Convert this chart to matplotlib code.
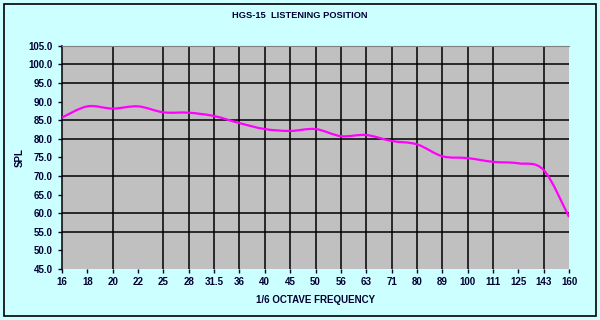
import numpy as np
import matplotlib
matplotlib.use('Agg')
import matplotlib.pyplot as plt
from matplotlib.path import Path
from matplotlib.patches import PathPatch, Rectangle

freqs = ['16', '18', '20', '22', '25', '28', '31.5', '36', '40', '45', '50',
         '56', '63', '71', '80', '89', '100', '111', '125', '143', '160']
spl = [85.7, 88.7, 88.1, 88.7, 87.1, 87.0, 86.1, 84.2, 82.6, 82.1, 82.6,
       80.7, 81.0, 79.4, 78.5, 75.3, 74.8, 73.8, 73.4, 71.6, 59.0]
# grid lines that survive in the picture
vgrid = ['20', '25', '28', '31.5', '36', '40', '45', '50', '56', '63', '71',
         '80', '89', '100', '111', '143']
hgrid = [55, 60, 70, 80, 85, 95, 100]
yticks = np.arange(45, 106, 5)

title = 'HGS-15  LISTENING POSITION'
xlabel = '1/6 OCTAVE FREQUENCY'
ylabel = 'SPL'

plt.rcParams['font.family'] = ['Liberation Sans', 'DejaVu Sans']
bg = '#CCFFFF'
txt = '#000033'

fig = plt.figure(figsize=(6, 3.2), dpi=100, facecolor=bg)
ax = fig.add_axes([62/600, 51/320, 507/600, 223.3/320])
ax.set_facecolor('#C0C0C0')

x = np.arange(len(freqs))
# smooth line like a spreadsheet chart: cubic bezier through the points
pts = np.column_stack([x, spl])
verts = [tuple(pts[0])]
codes = [Path.MOVETO]
for i in range(len(pts) - 1):
    p0 = pts[max(i - 1, 0)]
    p1 = pts[i]
    p2 = pts[i + 1]
    p3 = pts[min(i + 2, len(pts) - 1)]
    c1 = p1 + (p2 - p0) / 6.0
    c2 = p2 - (p3 - p1) / 6.0
    verts += [tuple(c1), tuple(c2), tuple(p2)]
    codes += [Path.CURVE4] * 3
ax.add_patch(PathPatch(Path(verts, codes), facecolor='none',
                       edgecolor='#FF00FF', lw=1.6, zorder=3))

for f in vgrid:
    ax.axvline(freqs.index(f), color='black', lw=1.1, zorder=1)
for h in hgrid:
    ax.axhline(h, color='black', lw=1.1, zorder=1)

ax.set_xlim(0, len(freqs) - 1)
ax.set_ylim(45, 105)
ax.set_xticks(x)
ax.set_xticklabels(freqs)
ax.set_yticks(yticks)
ax.set_yticklabels(['%.1f' % v for v in yticks])
ax.tick_params(axis='both', labelsize=7, colors=txt, length=3, width=1)
ax.tick_params(axis='x', pad=3, length=3)
for lab in ax.get_xticklabels() + ax.get_yticklabels():
    lab.set_fontweight('bold')

ax.spines['left'].set_color('black')
ax.spines['left'].set_linewidth(1.1)
ax.spines['top'].set_color('#808080')
ax.spines['top'].set_linewidth(0.8)
ax.spines['right'].set_visible(False)
ax.spines['bottom'].set_visible(False)

fig.text(0.5, 1 - 16/320, title, ha='center', va='center', fontsize=6.7,
         fontweight='bold', color=txt)
fig.text(315.5/600, 1 - 300/320, xlabel, ha='center', va='center', fontsize=7,
         fontweight='bold', color=txt)
fig.text(20/600, 1 - 158/320, ylabel, ha='center', va='center', fontsize=7,
         fontweight='bold', color=txt, rotation=90)

fig.patches.append(Rectangle((4/600, 4/320), 592/600, 312/320, fill=False,
                             edgecolor='black', lw=1.2, transform=fig.transFigure))

fig.savefig('out.png', dpi=100, facecolor=bg)
